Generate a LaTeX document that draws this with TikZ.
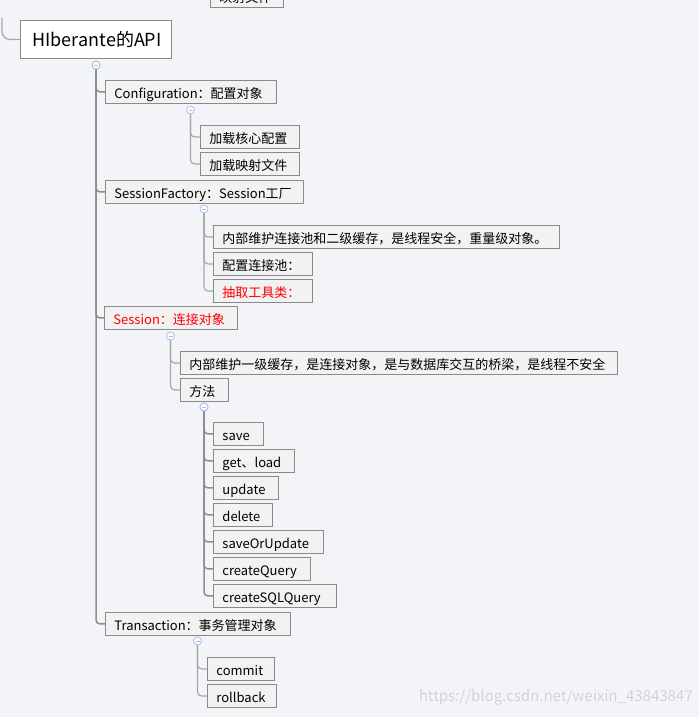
\documentclass[tikz,border=0pt]{standalone}
\usepackage{fontspec}
\setmainfont{Noto Sans CJK SC}
\definecolor{bgc}{HTML}{F3F4F8}
\definecolor{boxfill}{HTML}{F2F2F2}
\definecolor{boxline}{HTML}{8A8A8A}
\definecolor{trunkc}{HTML}{8E8E8E}
\definecolor{branchc}{HTML}{A8A8A8}
\definecolor{circc}{HTML}{A9BFE6}
\definecolor{redtxt}{HTML}{FF0000}
\tikzset{
  box/.style={draw=boxline, line width=0.9pt, fill=boxfill, anchor=north west,
    inner xsep=9pt, inner ysep=0pt, minimum height=23pt, align=left,
    text height=12.5pt, text depth=0pt,
    font=\fontsize{13pt}{15pt}\selectfont, text=black},
  W/.style={text width=#1-18pt},
  rootbox/.style={draw=boxline, line width=0.9pt, fill=white, anchor=north west,
    inner xsep=12pt, inner ysep=0pt, minimum height=38pt, align=left,
    text height=14pt, text depth=0pt,
    font=\fontsize{18pt}{21pt}\selectfont, text width=#1-24pt},
  redt/.style={text=redtxt},
  tog/.style={circle, draw=circc, line width=0.8pt, fill=white, minimum size=8pt, inner sep=0pt,
    path picture={\draw[circc, line width=0.8pt] ([xshift=-2pt]path picture bounding box.center) -- ([xshift=2pt]path picture bounding box.center);}},
  trunk/.style={draw=trunkc, line width=1.5pt, rounded corners=4pt},
  branch/.style={draw=branchc, line width=1.2pt, rounded corners=4pt},
}
\begin{document}
\begin{tikzpicture}[x=1pt,y=-1pt]
\useasboundingbox (0,0) rectangle (699,717);
\fill[bgc] (0,0) rectangle (699,717);
\clip (0,0) rectangle (699,717);

% partial node at top
\node[box, W=73pt] (top) at (210,-16) {映射文件};

% root
\coordinate (rin) at (2,18);
\node[rootbox=151pt] (root) at (20,20) {HIberante的API};
\draw[branch, rounded corners=8pt] (rin) |- (root.west);
\node[tog] (t0) at (96,65) {};

% level 1
\node[box, W=171pt] (conf) at (105,80) {Configuration：配置对象};
\node[box, W=198pt] (sf) at (105,180) {SessionFactory：Session工厂};
\node[box, W=133pt, redt] (sess) at (104,306) {Session：连接对象};
\node[box, W=185pt] (tx) at (105,612) {Transaction：事务管理对象};

\foreach \c in {conf,sf,sess,tx} \draw[trunk] (t0.south) |- (\c.west);
\node[tog] at (t0) {};

% configuration children
\node[tog] (t1) at (190.5,110) {};
\node[box, W=99pt] (c1) at (200,125) {加载核心配置};
\node[box, W=99pt] (c2) at (200,152) {加载映射文件};
\foreach \c in {c1,c2} \draw[branch] (t1.south) |- (\c.west);

% sessionfactory children
\node[tog] (t2) at (204,209) {};
\node[box, W=346pt] (f1) at (213,225) {内部维护连接池和二级缓存，是线程安全，重量级对象。};
\node[box, W=99pt] (f2) at (213,252) {配置连接池：};
\node[box, W=99pt, redt] (f3) at (213,279) {抽取工具类：};
\foreach \c in {f1,f2,f3} \draw[branch] (t2.south) |- (\c.west);

% session children
\node[tog] (t3) at (170.5,336) {};
\node[box, W=437pt] (s1) at (180,351) {内部维护一级缓存，是连接对象，是与数据库交互的桥梁，是线程不安全};
\node[box, W=48pt] (s2) at (180,378) {方法};
\foreach \c in {s1,s2} \draw[branch] (t3.south) |- (\c.west);

% methods
\node[tog] (t4) at (204,407) {};
\node[box, W=50pt] (m1) at (213,422) {save};
\node[box, W=81pt] (m2) at (213,449) {get、load};
\node[box, W=65pt] (m3) at (213,476) {update};
\node[box, W=59pt] (m4) at (213,503) {delete};
\node[box, W=110pt] (m5) at (213,530) {saveOrUpdate};
\node[box, W=97pt] (m6) at (213,557) {createQuery};
\node[box, W=123pt] (m7) at (213,584) {createSQLQuery};
\foreach \c in {m1,m2,m3,m4,m5,m6,m7} \draw[trunk] (t4.south) |- (\c.west);
\node[tog] at (t4) {};

% transaction children
\node[tog] (t5) at (197.5,641) {};
\node[box, W=67pt] (x1) at (207,657) {commit};
\node[box, W=69pt] (x2) at (207,684) {rollback};
\foreach \c in {x1,x2} \draw[branch] (t5.south) |- (\c.west);

% watermark
\node[anchor=west, text=white, font=\fontsize{15pt}{17pt}\selectfont, inner sep=0pt] (wm) at (418,697) {https://blog.csdn.net/weixin\_43843847};
\node[anchor=west, text=black!18, font=\fontsize{15pt}{17pt}\selectfont, inner sep=0pt] (wm2) at (418.6,697.6) {https://blog.csdn.net/weixin\_43843847};
\end{tikzpicture}
\end{document}
